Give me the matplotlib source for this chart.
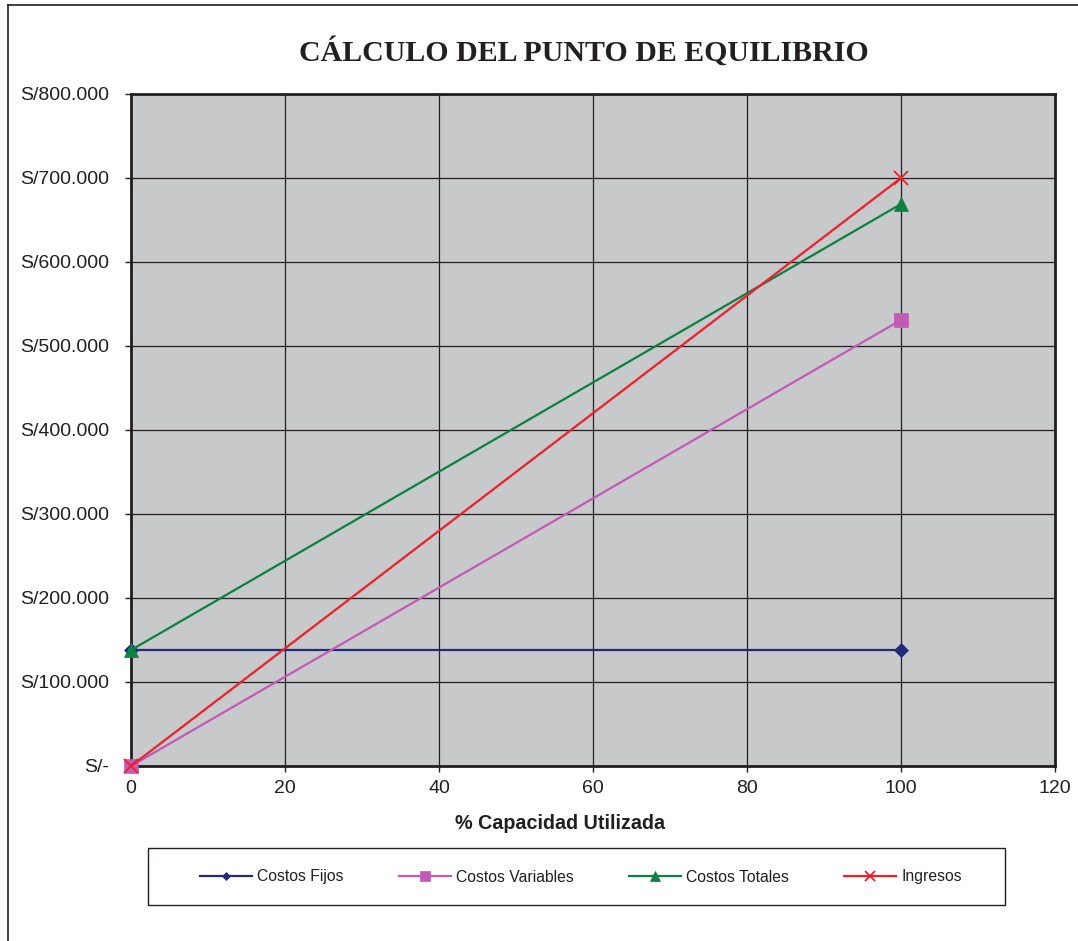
import matplotlib
matplotlib.use('Agg')
import matplotlib.pyplot as plt
from matplotlib.lines import Line2D
from matplotlib.patches import Rectangle
from matplotlib.ticker import FuncFormatter, MultipleLocator

# capacity used (%) and amounts in soles
capacidad = [0, 100]
costos_fijos = [138000, 138000]
costos_variables = [0, 531000]
costos_totales = [138000, 669000]
ingresos = [0, 700000]

series = [
    ('Costos Fijos', costos_fijos, '#232a7a', 'D', 7),
    ('Costos Variables', costos_variables, '#c15bb6', 's', 10),
    ('Costos Totales', costos_totales, '#0b8140', '^', 10),
    ('Ingresos', ingresos, '#f01f2a', 'x', 10),
]

plt.rcParams['font.family'] = ['Liberation Sans', 'DejaVu Sans']
text_col = '#231f20'

fig = plt.figure(figsize=(10.78, 9.41), dpi=100)
ax = fig.add_axes([131 / 1078, 1 - 766 / 941, 924 / 1078, 672 / 941])
ax.set_facecolor('#c8c9cb')

for label, vals, col, mk, ms in series:
    ax.plot(capacidad, vals, color=col, lw=1.6, marker=mk, markersize=ms,
            markeredgewidth=1.3 if mk == 'x' else 0.5, markeredgecolor=col,
            label=label, clip_on=False, zorder=3)

ax.set_xlim(0, 120)
ax.set_ylim(0, 800000)
ax.xaxis.set_major_locator(MultipleLocator(20))
ax.yaxis.set_major_locator(MultipleLocator(100000))


def soles(v, pos):
    if v == 0:
        return 'S/-'
    return 'S/' + f'{int(v):,}'.replace(',', '.')


ax.yaxis.set_major_formatter(FuncFormatter(soles))
ax.grid(True, color='#231f20', lw=0.9, zorder=1)
ax.set_axisbelow(True)
for sp in ax.spines.values():
    sp.set_linewidth(2)
    sp.set_color('#231f20')
ax.tick_params(axis='both', labelsize=14, colors=text_col, length=4, width=1,
               direction='out')
ax.tick_params(axis='y', pad=12)
ax.tick_params(axis='x', pad=6)

ax.set_xlabel('% Capacidad Utilizada', fontsize=14.2, fontweight='bold', color=text_col)
ax.xaxis.set_label_coords(0.464, -0.071)

fig.text(584 / 1078, 1 - 52 / 941, 'CÁLCULO DEL PUNTO DE EQUILIBRIO',
         family='Liberation Serif', fontweight='bold', fontsize=21.5,
         color=text_col, ha='center', va='center')

# legend box drawn separately, entries centred inside it
fig.add_artist(Rectangle((148 / 1078, 1 - 905 / 941), 857 / 1078, 57 / 941,
                         transform=fig.transFigure, fill=False,
                         edgecolor='#231f20', lw=1))
leg = fig.legend(loc='center', ncol=4, bbox_to_anchor=(581 / 1078, 1 - 877 / 941),
                 fontsize=11.3, markerscale=0.65, handlelength=3.3,
                 handletextpad=0.35, columnspacing=3.5, frameon=False)
for t in leg.get_texts():
    t.set_color(text_col)

# chart border (top and left visible)
fig.add_artist(Line2D([8 / 1078, 1], [1 - 5 / 941, 1 - 5 / 941], color='#231f20', lw=1.2))
fig.add_artist(Line2D([8 / 1078, 8 / 1078], [0, 1 - 5 / 941], color='#231f20', lw=1.2))

fig.savefig('out.png', dpi=100)
